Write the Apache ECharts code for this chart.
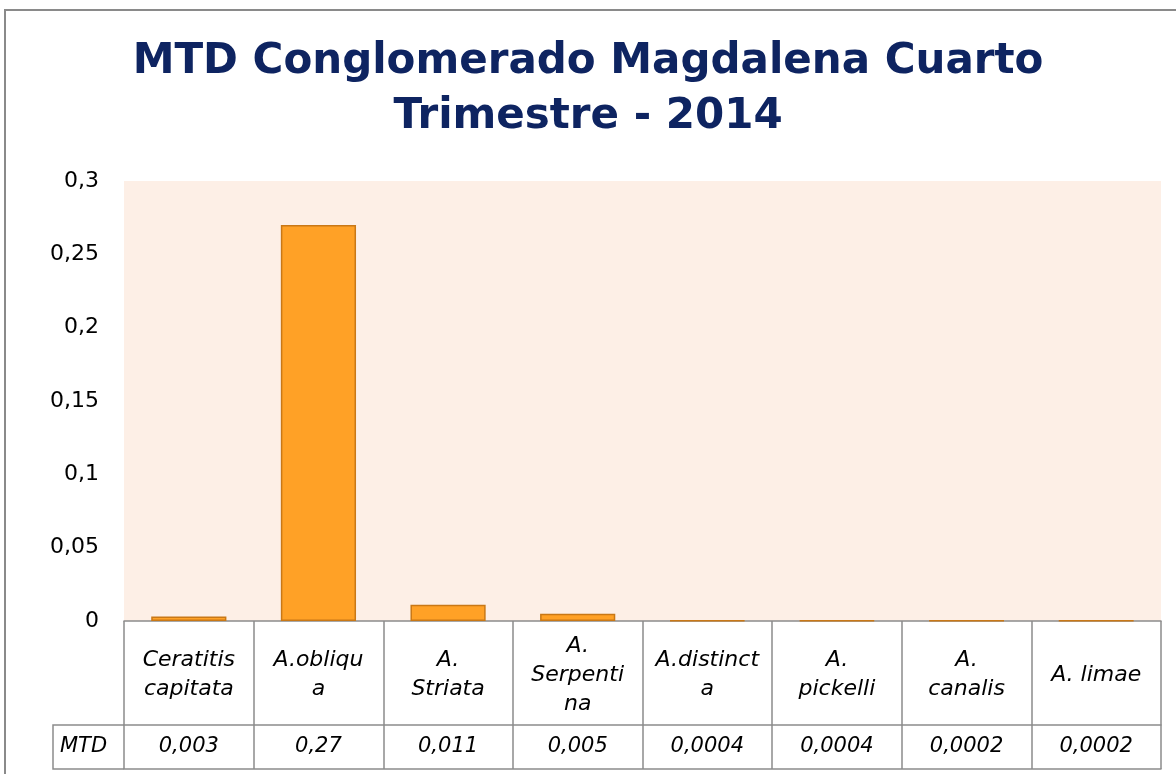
<!DOCTYPE html>
<html>
<head>
<meta charset="utf-8">
<script src="https://cdn.jsdelivr.net/npm/echarts@6/dist/echarts.min.js"></script>
<style>
html,body{margin:0;padding:0;background:#fff;}
#chart{width:1176px;height:774px;}
</style>
</head>
<body>
<div id="chart"></div>
<script>
var categories = ["Ceratitis capitata", "A.obliqua", "A. Striata", "A. Serpentina", "A.distincta", "A. pickelli", "A. canalis", "A. limae"];
var categoryLabels = ["Ceratitis\ncapitata", "A.obliqu\na", "A.\nStriata", "A.\nSerpenti\nna", "A.distinct\na", "A.\npickelli", "A.\ncanalis", "A. limae"];
var mtdValues = [0.003, 0.27, 0.011, 0.005, 0.0004, 0.0004, 0.0002, 0.0002];
var yTicks = [0, 0.05, 0.1, 0.15, 0.2, 0.25, 0.3];
var seriesName = "MTD";
var titleText = "MTD Conglomerado Magdalena Cuarto\nTrimestre - 2014";

var W = 1176, H = 774;
var gridLeft = 124, gridRight = 15, gridTop = 181, gridBottom = 153;
var rowCat = 104, rowVal = 44;
var lineColor = '#8c8c8c';
var font = 'DejaVu Sans';

function comma(v){ return String(v).replace('.', ','); }

var chart = echarts.init(document.getElementById('chart'), null, {renderer:'canvas'});
var tableTop = H - gridBottom;
var baseLabel = {fontFamily: font, fontSize: 21, fontStyle: 'italic', color: '#000'};

chart.setOption({
  animation: false,
  title: {
    text: titleText,
    left: 'center',
    top: 30,
    textStyle: {fontFamily: font, fontWeight: 'bold', fontSize: 42, lineHeight: 55, color: '#0e2461'}
  },
  grid: {left: gridLeft, right: gridRight, top: gridTop, bottom: gridBottom, show: true,
         backgroundColor: '#fdefe6', borderWidth: 0},
  yAxis: {
    type: 'value', min: yTicks[0], max: yTicks[yTicks.length-1], interval: yTicks[1]-yTicks[0],
    axisLine: {show: false}, axisTick: {show: false}, splitLine: {show: false},
    axisLabel: {margin: 25, fontFamily: font, fontSize: 22, color: '#000', formatter: function(v){ return comma(+v.toFixed(2)); }}
  },
  xAxis: [
    {
      type: 'category', data: categoryLabels, position: 'bottom',
      axisLine: {show: true, lineStyle: {color: lineColor, width: 1.5}},
      axisTick: {show: true, interval: 0, length: rowCat + rowVal, lineStyle: {color: lineColor, width: 1.5}},
      axisLabel: Object.assign({}, baseLabel, {interval: 0, margin: rowCat/2 + 2, verticalAlign: 'middle', lineHeight: 29, align: 'center', fontSize: 22})
    },
    {
      type: 'category', data: mtdValues.map(comma), position: 'bottom', offset: rowCat,
      axisLine: {show: true, lineStyle: {color: lineColor, width: 1.5}},
      axisTick: {show: false},
      axisLabel: Object.assign({}, baseLabel, {interval: 0, margin: rowVal/2, verticalAlign: 'middle'})
    },
    {
      type: 'category', data: categories, position: 'bottom', offset: rowCat + rowVal,
      axisLine: {show: true, lineStyle: {color: lineColor, width: 1.5}},
      axisTick: {show: false}, axisLabel: {show: false}
    }
  ],
  series: [{
    name: seriesName, type: 'bar', xAxisIndex: 0, data: mtdValues,
    barCategoryGap: '42%',
    itemStyle: {color: '#ffa126', borderColor: '#c97816', borderWidth: 1.5}
  }],
  graphic: [
    {type: 'rect', silent: true, shape: {x: 5, y: 10, width: W + 50, height: H + 50},
     style: {fill: 'none', stroke: '#8a8a8a', lineWidth: 2}},
    {type: 'polyline', silent: true,
     shape: {points: [[gridLeft, tableTop + rowCat], [53, tableTop + rowCat], [53, tableTop + rowCat + rowVal], [gridLeft, tableTop + rowCat + rowVal]]},
     style: {fill: 'none', stroke: lineColor, lineWidth: 1.5}},
    {type: 'text', silent: true, x: 60, y: tableTop + rowCat + rowVal/2,
     style: {text: seriesName, verticalAlign: 'middle', align: 'left', font: 'italic 21px "DejaVu Sans"', fill: '#000'}}
  ]
});
</script>
</body>
</html>
